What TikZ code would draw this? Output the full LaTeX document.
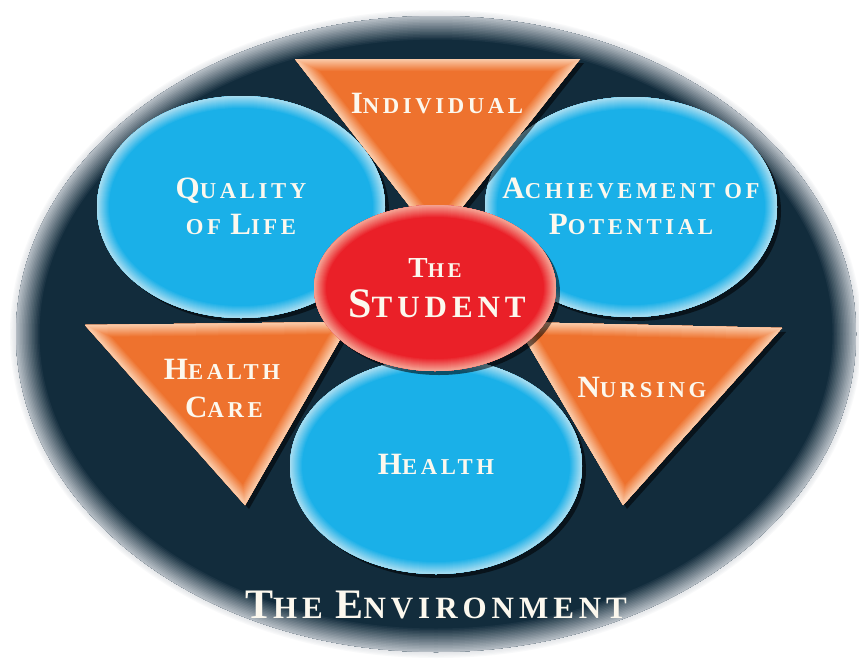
\documentclass[tikz,border=0pt]{standalone}
\usepackage{fontspec}
\setmainfont{Liberation Serif}
\newfontfamily\lblfont[LetterSpace=16]{Liberation Serif}
\definecolor{navy}{RGB}{18,44,60}
\definecolor{rim}{RGB}{205,210,216}
\definecolor{cyanm}{RGB}{26,176,232}
\definecolor{cyanl}{RGB}{190,228,242}
\definecolor{orangem}{RGB}{238,114,46}
\definecolor{orangel}{RGB}{252,218,190}
\definecolor{redm}{RGB}{234,32,40}
\definecolor{redl}{RGB}{246,185,165}
\definecolor{txt}{RGB}{252,248,238}
\newcommand\shapeglow[3]{%
  \fill[black,opacity=0.55,shift={(4,4)}] #1;
  \fill[#2] #1;
  \begin{scope}
    \clip #1;
    \foreach \i [evaluate=\i as \w using 26-2*\i, evaluate=\i as \p using 7*\i] in {1,...,12}
      {\draw[line width=\w pt,#3!\p!#2] #1;}
  \end{scope}}
\newcommand\scA[2]{{\fontsize{31}{31}\selectfont #1}{\fontsize{22.7}{22.7}\selectfont #2}}
\newcommand\scS[2]{{\fontsize{29}{29}\selectfont #1}{\fontsize{21}{21}\selectfont #2}}
\newcommand\scL[2]{{\fontsize{42}{42}\selectfont #1}{\fontsize{31}{31}\selectfont #2}}
\tikzset{lbl/.style={text=txt,font=\lblfont\bfseries,anchor=base,inner sep=0pt}}
\begin{document}
\begin{tikzpicture}[x=1pt,y=-1pt]
\useasboundingbox (0,0) rectangle (859,664);
\fill[white] (0,0) rectangle (859,664);
% environment ellipse with soft halo
\foreach \i in {1,...,5}
  {\fill[rim,opacity=0.12] (436,334) ellipse [x radius={420pt+1.2pt*\i}, y radius={318pt+1.2pt*\i}];}
\fill[navy] (436,334) ellipse [x radius=420pt, y radius=318pt];
\begin{scope}
  \clip (436,334) ellipse [x radius=420pt, y radius=318pt];
  \foreach \i [evaluate=\i as \w using 50-3*\i, evaluate=\i as \p using 5.5*\i] in {1,...,16}
    {\draw[line width=\w pt,rim!\p!navy] (436,334) ellipse [x radius=420pt, y radius=318pt];}
\end{scope}
% cyan ellipses
\shapeglow{(241,207) ellipse [x radius=144pt, y radius=111pt]}{cyanm}{cyanl}
\shapeglow{(631,207) ellipse [x radius=146pt, y radius=110pt]}{cyanm}{cyanl}
\shapeglow{(436,466) ellipse [x radius=146pt, y radius=108pt]}{cyanm}{cyanl}
% orange triangles
\shapeglow{(295,59) -- (580,59) -- (436,240) -- cycle}{orangem}{orangel}
\shapeglow{(85,325) -- (350,322) -- (245,505) -- cycle}{orangem}{orangel}
\shapeglow{(515,322) -- (782,328) -- (623,505) -- cycle}{orangem}{orangel}
% student
\shapeglow{(435,288) ellipse [x radius=121pt, y radius=83pt]}{redm}{redl}
% labels
\node[lbl] (ind) at (437,113) {\scA{I}{NDIVIDUAL}};
\node[lbl] (qol1) at (241,198) {\scA{Q}{UALITY}};
\node[lbl] (qol2) at (241,234) {\scA{}{OF }\scA{L}{IFE}};
\node[lbl] (ach1) at (631,198) {\scA{A}{CHIEVEMENT OF}};
\node[lbl] (ach2) at (631,234) {\scA{P}{OTENTIAL}};
\node[lbl] (the) at (435,277) {\scS{T}{HE}};
\node[lbl] (stu) at (437,317) {\scL{S}{TUDENT}};
\node[lbl] (hc1) at (222,379) {\scA{H}{EALTH}};
\node[lbl] (hc2) at (224,417) {\scA{C}{ARE}};
\node[lbl] (nur) at (642,397) {\scA{N}{URSING}};
\node[lbl] (hea) at (436,474) {\scA{H}{EALTH}};
\node[lbl] (env) at (436,618) {\scL{T}{HE }\scL{E}{NVIRONMENT}};
\end{tikzpicture}
\end{document}
